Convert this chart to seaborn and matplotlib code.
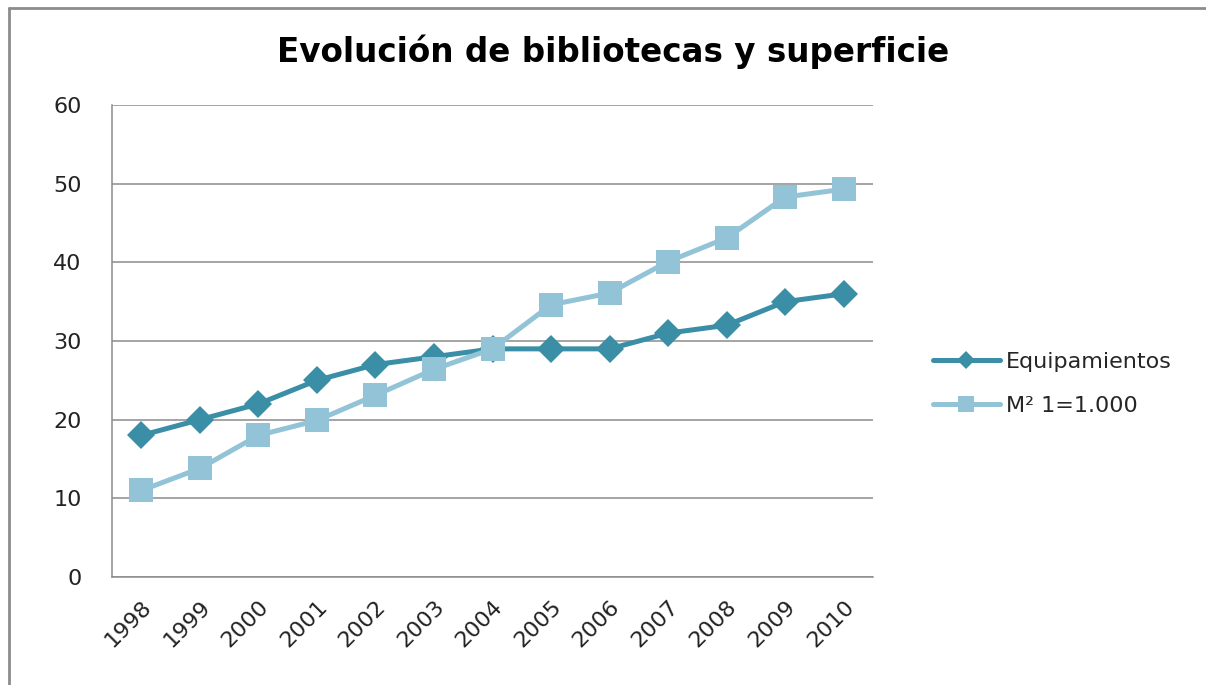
import matplotlib
matplotlib.use("Agg")
import matplotlib.pyplot as plt
import seaborn as sns
import pandas as pd
from matplotlib.lines import Line2D

years = ["1998", "1999", "2000", "2001", "2002", "2003", "2004",
         "2005", "2006", "2007", "2008", "2009", "2010"]
equipamientos = [18, 20, 22, 25, 27, 28, 29, 29, 29, 31, 32, 35, 36]
superficie = [11.0, 13.8, 18.0, 19.9, 23.1, 26.4, 29.0, 34.6, 36.1, 40.1, 43.1, 48.3, 49.3]
series_names = ["Equipamientos", "M² 1=1.000"]
yticks = [0, 10, 20, 30, 40, 50, 60]
title = "Evolución de bibliotecas y superficie"

sns.set_theme(style="white")
plt.rcParams["font.family"] = ["DejaVu Sans"]

df = pd.DataFrame({
    "year": years * 2,
    "value": equipamientos + superficie,
    "serie": [series_names[0]] * len(years) + [series_names[1]] * len(years),
})

c1 = "#3A8EA6"
c2 = "#93C3D7"

fig = plt.figure(figsize=(12.06, 6.85), dpi=100)
ax = fig.add_axes([112 / 1206, 1 - 577 / 685, (873 - 112) / 1206, (577 - 105) / 685])

sns.lineplot(data=df, x="year", y="value", hue="serie", style="serie",
             palette={series_names[0]: c1, series_names[1]: c2},
             markers={series_names[0]: "D", series_names[1]: "s"},
             dashes=False, linewidth=3.6, markersize=15,
             markeredgewidth=0, legend=False, ax=ax, sort=False)
ax.get_lines()[0].set_markersize(14)
ax.get_lines()[1].set_markersize(17)
ax.get_lines()[1].set_zorder(3)

ax.set_xlim(-0.5, len(years) - 0.5)
ax.set_ylim(0, 60)
ax.set_yticks(yticks)
ax.set_xticks(range(len(years)))
ax.set_xticklabels(years, rotation=45, ha="right", rotation_mode="anchor", fontsize=16)
ax.tick_params(axis="y", labelsize=16, pad=22, length=0, labelcolor="#222222")
ax.tick_params(axis="x", length=0, pad=14, labelcolor="#222222")
ax.yaxis.grid(True, color="#8C8C8C", linewidth=1.1)
ax.set_axisbelow(True)
for s in ["top", "right"]:
    ax.spines[s].set_visible(False)
for s in ["left", "bottom"]:
    ax.spines[s].set_color("#8C8C8C")
    ax.spines[s].set_linewidth(1.1)
ax.set_xlabel("")
ax.set_ylabel("")

fig.text(613 / 1206, 1 - 52 / 685, title, ha="center", va="center",
         fontsize=23.5, fontweight="bold", color="black")

handles = [
    Line2D([], [], color=c1, marker="D", markersize=9, linewidth=3.6, markeredgewidth=0),
    Line2D([], [], color=c2, marker="s", markersize=12, linewidth=3.6, markeredgewidth=0),
]
fig.legend(handles, series_names, loc="center left",
           bbox_to_anchor=(913 / 1206, 1 - 384 / 685), frameon=False,
           fontsize=16, handlelength=3.0, handletextpad=0.3, labelspacing=1.1)

# outer frame (left and top edges visible)
fig.add_artist(Line2D([9 / 1206, 9 / 1206], [0, 1 - 8 / 685], transform=fig.transFigure,
                      color="#8C8C8C", linewidth=2))
fig.add_artist(Line2D([9 / 1206, 1], [1 - 8 / 685, 1 - 8 / 685], transform=fig.transFigure,
                      color="#8C8C8C", linewidth=2))

fig.savefig("out.png", dpi=100, facecolor="white")
